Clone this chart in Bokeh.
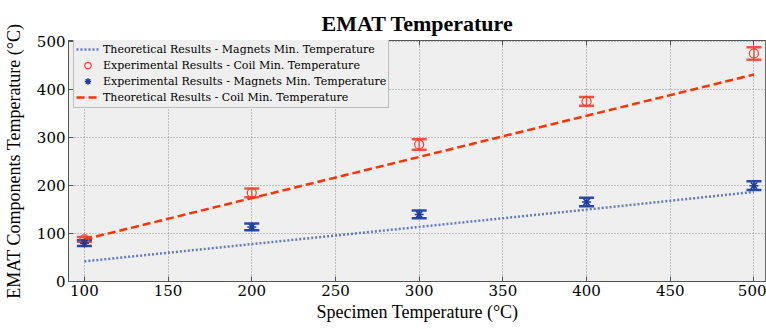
from bokeh.plotting import figure
from bokeh.models import (ColumnDataSource, Whisker, TeeHead, Legend, LegendItem,
                          LinearAxis, FixedTicker, Range1d)
from bokeh.embed import file_html
from bokeh.resources import INLINE

# ---- data ----
temps = [100, 200, 300, 400, 500]
coil_exp = [88, 185, 286, 376, 476]
coil_err = [5, 9, 11, 9, 13]
mag_exp = [80, 114, 140, 166, 200]
mag_err = [6, 7, 8, 9, 9]
coil_theory = [88, 174, 260, 346, 432]
mag_theory = [42, 78, 114, 150, 187]
x_ticks = [100, 150, 200, 250, 300, 350, 400, 450, 500]
y_ticks = [0, 100, 200, 300, 400, 500]

FONT = "Liberation Serif"
TICK_FONT = "DejaVu Serif"
RED = "#f2402a"
RED_LINE = "#ff3300"
BLUE = "#1d3a9c"
BLUE_LINE = "#5f7cc8"

p = figure(width=766, height=329, output_backend="svg", toolbar_location=None,
           x_range=Range1d(90.5, 507.5), y_range=Range1d(0, 503),
           title="EMAT Temperature")
p.min_border_left = 67
p.min_border_right = 0
p.min_border_top = 40
p.min_border_bottom = 48
p.background_fill_color = "#efefef"
p.border_fill_color = "white"
p.outline_line_color = "#6a6a6a"

p.title.text_font = FONT
p.title.text_font_size = "22px"
p.title.text_font_style = "bold"
p.title.align = "center"
p.title.text_color = "black"

for ax in (p.xaxis[0], p.yaxis[0]):
    ax.major_label_text_font = TICK_FONT
    ax.major_label_text_font_size = "15px"
    ax.major_label_text_color = "black"
    ax.axis_label_text_font = FONT
    ax.axis_label_text_font_size = "18px"
    ax.axis_label_text_font_style = "normal"
    ax.axis_label_text_color = "black"
    ax.major_tick_in = 5
    ax.major_tick_out = 0
    ax.minor_tick_line_color = None
    ax.axis_line_color = "#555555"
    ax.major_tick_line_color = "#555555"
    ax.major_label_standoff = 3

p.xaxis[0].ticker = FixedTicker(ticks=x_ticks)
p.yaxis[0].ticker = FixedTicker(ticks=y_ticks)
p.xaxis[0].axis_label = "Specimen Temperature (\u00b0C)"
p.yaxis[0].axis_label = "EMAT Components Temperature (\u00b0C)"
p.xaxis[0].axis_label_standoff = 3
p.yaxis[0].axis_label_standoff = 10

top_ax = LinearAxis(ticker=FixedTicker(ticks=x_ticks),
                    major_label_overrides={t: "" for t in x_ticks},
                    major_label_text_font_size="1px",
                    major_label_standoff=0, major_tick_in=5, major_tick_out=0,
                    minor_tick_line_color=None, axis_line_color="#555555",
                    major_tick_line_color="#555555")
p.add_layout(top_ax, "above")

p.xgrid.ticker = FixedTicker(ticks=x_ticks)
p.ygrid.ticker = FixedTicker(ticks=y_ticks)
for g in (p.xgrid[0], p.ygrid[0]):
    g.grid_line_color = "#8a8a8a"
    g.grid_line_dash = "1 2"
    g.grid_line_width = 1

# theory lines
r_mag_th = p.line(temps, mag_theory, line_color=BLUE_LINE, line_width=2.5, line_dash="2 2")
r_coil_th = p.line(temps, coil_theory, line_color=RED_LINE, line_width=2.5, line_dash="8 4")

# error bars
coil_src = ColumnDataSource(dict(x=temps, y=coil_exp,
                                 upper=[v + e for v, e in zip(coil_exp, coil_err)],
                                 lower=[v - e for v, e in zip(coil_exp, coil_err)]))
mag_src = ColumnDataSource(dict(x=temps, y=mag_exp,
                                upper=[v + e for v, e in zip(mag_exp, mag_err)],
                                lower=[v - e for v, e in zip(mag_exp, mag_err)]))

for src, col in ((coil_src, "#f0553f"), (mag_src, "#2b4aa8")):
    w = Whisker(base="x", upper="upper", lower="lower", source=src, dimension="height",
                line_color=col, line_width=1.5,
                upper_head=TeeHead(size=15, line_color=col, line_width=2.5),
                lower_head=TeeHead(size=15, line_color=col, line_width=2.5))
    p.add_layout(w)

r_coil = p.scatter("x", "y", source=coil_src, marker="circle", size=9,
                   fill_color=None, line_color=RED, line_width=1.2)
r_mag = p.scatter("x", "y", source=mag_src, marker="asterisk", size=9,
                  line_color=BLUE, line_width=1.5)

legend = Legend(items=[
    LegendItem(label="Theoretical Results - Magnets Min. Temperature", renderers=[r_mag_th]),
    LegendItem(label="Experimental Results - Coil Min. Temperature", renderers=[r_coil]),
    LegendItem(label="Experimental Results - Magnets Min. Temperature", renderers=[r_mag]),
    LegendItem(label="Theoretical Results - Coil Min. Temperature", renderers=[r_coil_th]),
])
legend.location = (5, 173)
legend.label_text_font = TICK_FONT
legend.label_text_font_size = "11px"
legend.label_text_color = "black"
legend.label_height = 16
legend.glyph_height = 16
legend.glyph_width = 23
legend.label_standoff = 4
legend.spacing = 0
legend.padding = 2
legend.margin = 0
legend.border_line_color = "#8a8a8a"
legend.border_line_width = 1
legend.background_fill_color = "#efefef"
legend.background_fill_alpha = 1
p.add_layout(legend, "center")

open("out.html", "w").write(file_html(p, INLINE))
